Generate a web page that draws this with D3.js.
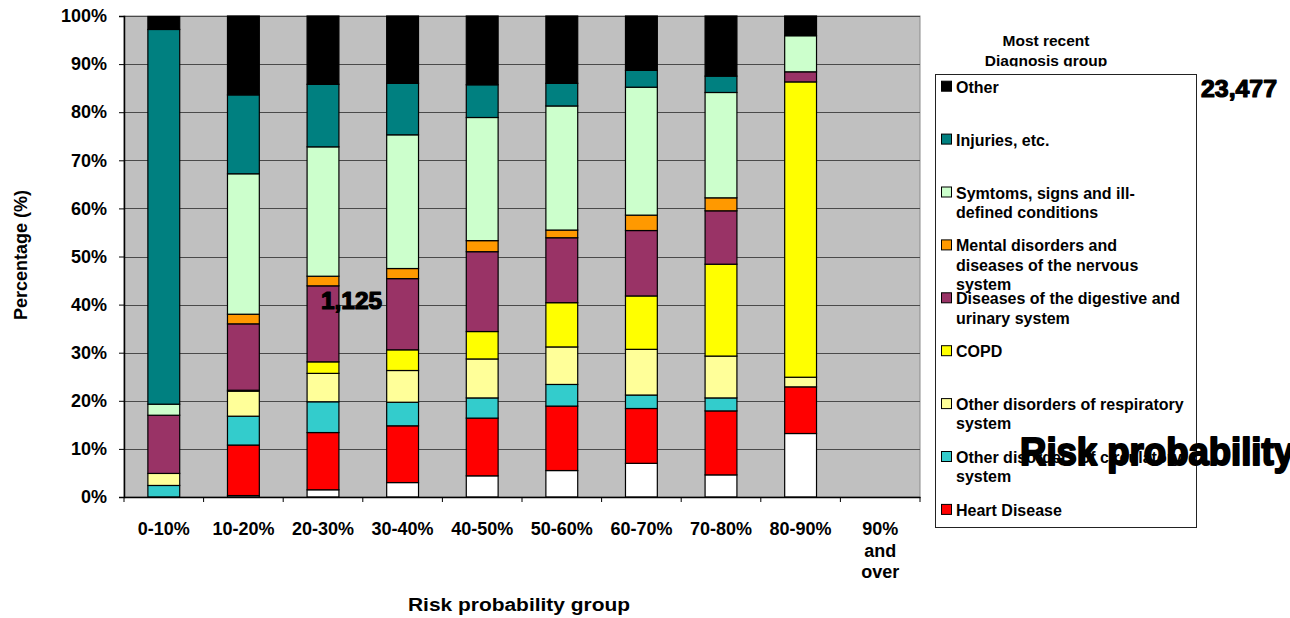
<!DOCTYPE html>
<html>
<head>
<meta charset="utf-8">
<script src="https://cdn.jsdelivr.net/npm/d3@7"></script>
<style>
  html, body { margin: 0; padding: 0; background: #fff; }
  svg { display: block; font-family: "Liberation Sans", Arial, sans-serif; font-weight: bold; }
</style>
</head>
<body>
<svg id="chart" width="1290" height="618"></svg>
<script>
// Risk probability groups (x axis)
const categories = ["0-10%", "10-20%", "20-30%", "30-40%", "40-50%", "50-60%", "60-70%", "70-80%", "80-90%", "90% and over"];

// Share of each most recent diagnosis group within a risk group (%), stacked bottom to top
const unclassified = [0, 0.3, 1.5, 3.0, 4.4, 5.5, 7.0, 4.6, 13.2, 0];
const heartDisease = [0, 10.5, 11.9, 11.8, 12.0, 13.4, 11.4, 13.3, 9.7, 0];
const circulatory  = [2.4, 6.0, 6.4, 4.9, 4.2, 4.5, 2.8, 2.7, 0, 0];
const respiratory  = [2.5, 5.2, 5.9, 6.6, 8.1, 7.8, 9.5, 8.7, 2.0, 0];
const copd         = [0, 0.2, 2.4, 4.3, 5.7, 9.2, 11.1, 19.1, 61.4, 0];
const digestive    = [12.1, 13.8, 15.8, 14.8, 16.6, 13.5, 13.6, 11.1, 2.1, 0];
const mental       = [0, 2.0, 2.0, 2.1, 2.3, 1.6, 3.2, 2.7, 0, 0];
const symptoms     = [2.3, 29.2, 26.9, 27.8, 25.6, 25.8, 26.6, 21.9, 7.5, 0];
const injuries     = [77.9, 16.4, 13.0, 10.7, 6.8, 4.7, 3.5, 3.4, 0, 0];
const other        = [2.7, 16.4, 14.2, 14.0, 14.3, 14.0, 11.3, 12.5, 4.1, 0];

// Series keys, labels (legend), colours
const seriesKeys = ["unclassified", "heart", "circ", "resp", "copd", "digest", "mental", "symptoms", "injuries", "other"];
const seriesValues = [unclassified, heartDisease, circulatory, respiratory, copd, digestive, mental, symptoms, injuries, other];
const seriesLabels = [
  null,
  "Heart Disease",
  "Other disorders of circulatory\nsystem",
  "Other disorders of respiratory\nsystem",
  "COPD",
  "Diseases of the digestive and\nurinary system",
  "Mental disorders and\ndiseases of the nervous\nsystem",
  "Symtoms, signs and ill-\ndefined conditions",
  "Injuries, etc.",
  "Other"
];
const seriesColors = ["#FFFFFF", "#FF0000", "#33CCCC", "#FFFF99", "#FFFF00", "#993366", "#FF9900", "#CCFFCC", "#008080", "#000000"];

const yTicks = [0, 10, 20, 30, 40, 50, 60, 70, 80, 90, 100];

// Stray annotations
const notes = [
  { text: "1,125", x: 321, y: 309, size: 23, len: 61 },
  { text: "23,477", x: 1201, y: 97, size: 23, len: 76 },
  { text: "Risk probability", x: 1020, y: 465, size: 38, len: 274 }
];

const svg = d3.select("#chart");
const plot = { left: 124, right: 920, top: 16, bottom: 497 };

const x = d3.scaleBand().domain(categories).range([plot.left, plot.right]).paddingInner(0.6).paddingOuter(0.3);
const y = d3.scaleLinear().domain([0, 100]).range([plot.bottom, plot.top]);
const color = d3.scaleOrdinal().domain(seriesKeys).range(seriesColors);

// Plot background
svg.append("rect")
  .attr("x", plot.left).attr("y", plot.top)
  .attr("width", plot.right - plot.left).attr("height", plot.bottom - plot.top)
  .attr("fill", "#C0C0C0").attr("stroke", "#8a8a8a").attr("stroke-width", 1);

// Horizontal gridlines
svg.append("g").selectAll("line").data(yTicks.slice(1)).join("line")
  .attr("x1", plot.left).attr("x2", plot.right)
  .attr("y1", d => Math.round(y(d)) + 0.5).attr("y2", d => Math.round(y(d)) + 0.5)
  .attr("stroke", "#4a4a4a").attr("stroke-width", 1);

// Stacked bars
const table = categories.map((c, i) => {
  const row = { cat: c };
  seriesKeys.forEach((k, j) => { row[k] = seriesValues[j][i]; });
  return row;
});
const stacked = d3.stack().keys(seriesKeys)(table);

svg.append("g").selectAll("g").data(stacked).join("g")
  .attr("fill", d => color(d.key))
  .selectAll("rect")
  .data(d => d.filter(s => s[1] - s[0] > 0))
  .join("rect")
  .attr("x", d => x(d.data.cat))
  .attr("y", d => y(d[1]))
  .attr("width", x.bandwidth())
  .attr("height", d => y(d[0]) - y(d[1]))
  .attr("stroke", "#000").attr("stroke-width", 1.2);

// Y axis
const yAxis = svg.append("g")
  .attr("transform", `translate(${plot.left},0)`)
  .call(d3.axisLeft(y).tickValues(yTicks).tickFormat(d => d + "%").tickSize(5).tickPadding(12));
yAxis.select(".domain").attr("stroke", "#000").attr("stroke-width", 1.5);
yAxis.selectAll(".tick line").attr("stroke", "#000");
yAxis.selectAll("text").attr("font-size", 18).attr("font-weight", "bold").attr("fill", "#000")
  .attr("font-family", "Liberation Sans, Arial, sans-serif");

// X axis: line, boundary ticks, wrapped labels
const xAxis = svg.append("g")
  .attr("transform", `translate(0,${plot.bottom})`)
  .call(d3.axisBottom(x).tickSize(0).tickPadding(0).tickFormat(""));
xAxis.select(".domain").attr("stroke", "#000").attr("stroke-width", 1.5);
const step = x.step();
const bounds = d3.range(categories.length + 1).map(i => plot.left + i * step);
xAxis.append("g").selectAll("line").data(bounds).join("line")
  .attr("x1", d => d).attr("x2", d => d).attr("y1", 0).attr("y2", 5)
  .attr("stroke", "#000");

const xLabels = svg.append("g").attr("font-size", 18).attr("text-anchor", "middle").attr("fill", "#000");
categories.forEach(c => {
  const t = xLabels.append("text").attr("x", x(c) + x.bandwidth() / 2).attr("y", 535);
  wrapText(t, c, 62, 21.5);
});

function wrapText(textSel, str, maxWidth, lineHeight) {
  const words = str.split(/\s+/);
  let line = [];
  const cx = textSel.attr("x");
  let tspan = textSel.append("tspan").attr("x", cx).attr("dy", 0);
  words.forEach(w => {
    line.push(w);
    tspan.text(line.join(" "));
    if (tspan.node().getComputedTextLength() > maxWidth && line.length > 1) {
      line.pop();
      tspan.text(line.join(" "));
      line = [w];
      tspan = textSel.append("tspan").attr("x", cx).attr("dy", lineHeight).text(w);
    }
  });
}

// Axis titles
svg.append("text")
  .attr("x", 519).attr("y", 611)
  .attr("text-anchor", "middle").attr("font-size", 18)
  .attr("textLength", 222).attr("lengthAdjust", "spacingAndGlyphs")
  .text("Risk probability group");

svg.append("text")
  .attr("transform", "translate(27,255) rotate(-90)")
  .attr("text-anchor", "middle").attr("font-size", 18)
  .text("Percentage (%)");

// Legend title (clipped at the top of the legend frame)
svg.append("clipPath").attr("id", "titleClip")
  .append("rect").attr("x", 930).attr("y", 0).attr("width", 300).attr("height", 66.5);
const lt = svg.append("g").attr("clip-path", "url(#titleClip)")
  .attr("font-size", 15.5).attr("text-anchor", "middle");
lt.append("text").attr("x", 1046).attr("y", 46).text("Most recent");
lt.append("text").attr("x", 1046).attr("y", 65.5).text("Diagnosis group");

// Legend frame and entries
svg.append("rect")
  .attr("x", 935.5).attr("y", 74.5).attr("width", 261).attr("height", 453)
  .attr("fill", "#fff").attr("stroke", "#222").attr("stroke-width", 1);

const legendItems = seriesKeys.map((k, i) => ({ key: k, label: seriesLabels[i] }))
  .filter(d => d.label !== null)
  .reverse();

const legend = svg.append("g").attr("font-size", 16);
legendItems.forEach((d, i) => {
  const base = 92.7 + i * 52.9;
  legend.append("rect")
    .attr("x", 941.5).attr("y", base - 11.5).attr("width", 10).attr("height", 10)
    .attr("fill", color(d.key)).attr("stroke", "#000").attr("stroke-width", 1);
  const t = legend.append("text").attr("x", 956).attr("y", base);
  d.label.split("\n").forEach((ln, j) => {
    t.append("tspan").attr("x", 956).attr("dy", j === 0 ? 0 : 19.3).text(ln);
  });
});

// Annotations (heavy, tightly set)
svg.append("g").selectAll("text").data(notes).join("text")
  .attr("x", d => d.x).attr("y", d => d.y)
  .attr("font-size", d => d.size)
  .attr("textLength", d => d.len).attr("lengthAdjust", "spacingAndGlyphs")
  .attr("stroke", "#000").attr("stroke-width", d => d.size > 30 ? 2 : 1.2)
  .attr("stroke-linejoin", "round")
  .text(d => d.text);
</script>
</body>
</html>
